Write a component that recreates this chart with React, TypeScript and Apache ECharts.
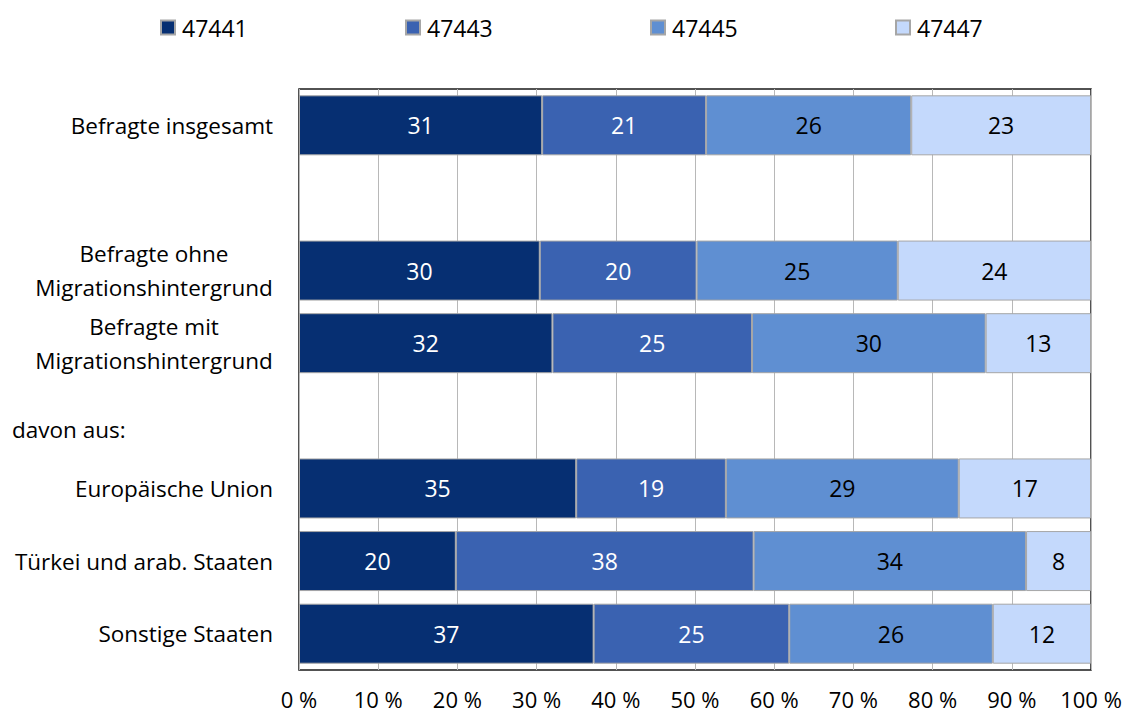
import React, { useEffect, useRef } from "react";
import * as echarts from "echarts";

const categories = [
  "Befragte insgesamt",
  "",
  "Befragte ohne\nMigrationshintergrund",
  "Befragte mit\nMigrationshintergrund",
  "davon aus:",
  "Europäische Union",
  "Türkei und arab. Staaten",
  "Sonstige Staaten",
];

const seriesNames = ["47441", "47443", "47445", "47447"];

const s47441 = [30.7, null, 30.4, 32.0, null, 35.0, 19.8, 37.2];
const s47443 = [20.7, null, 19.8, 25.2, null, 18.9, 37.6, 24.7];
const s47445 = [25.9, null, 25.4, 29.5, null, 29.4, 34.4, 25.7];
const s47447 = [22.7, null, 24.4, 13.3, null, 16.7, 8.2, 12.4];

const xTicks = [0, 10, 20, 30, 40, 50, 60, 70, 80, 90, 100];

const colors = ["#062f72", "#3a62b1", "#5f8fd2", "#c4d9fc"];
const labelColors = ["#ffffff", "#ffffff", "#000000", "#000000"];

const FONT = "Open Sans";
const FS = 22.5;
const FSN = 23;

export default function App() {
  const ref = useRef<HTMLDivElement>(null);

  useEffect(() => {
    document.body.style.margin = "0";
    const chart = echarts.init(ref.current!, null, { renderer: "svg" });
    const values = [s47441, s47443, s47445, s47447];

    const legendLefts = [160, 405, 650, 895];

    const option: any = {
      animation: false,
      textStyle: { fontFamily: FONT },
      legend: seriesNames.map((n, i) => ({
        data: [n],
        left: legendLefts[i],
        top: 16,
        padding: 0,
        itemWidth: 14,
        itemHeight: 14,
        itemGap: 7,
        icon: "rect",
        selectedMode: false,
        textStyle: { fontFamily: FONT, fontSize: FSN, color: "#000", padding: [0, 0, 0, 2] },
      })),
      grid: {
        left: 299,
        right: 38,
        top: 89,
        bottom: 45,
        show: true,
        borderColor: "#1a1a1a",
        borderWidth: 1.5,
        backgroundColor: "transparent",
      },
      xAxis: {
        type: "value",
        min: xTicks[0],
        max: xTicks[xTicks.length - 1],
        interval: 10,
        axisLine: { show: false },
        axisTick: { show: false },
        splitLine: { show: true, lineStyle: { color: "#b8b8b8", width: 1 } },
        axisLabel: {
          formatter: (v: number) => `${v} %`,
          fontFamily: FONT,
          fontSize: 22,
          color: "#000",
          margin: 18,
        },
      },
      yAxis: {
        type: "category",
        inverse: true,
        data: categories,
        axisLine: { show: false },
        axisTick: { show: false },
        splitLine: { show: false },
        axisLabel: {
          margin: 26,
          fontFamily: FONT,
          fontSize: FS,
          color: "#000",
          lineHeight: 34,
          formatter: (v: string) => {
            if (v === categories[4]) return "";
            if (v.includes("\n")) {
              return v
                .split("\n")
                .map((l) => `{c|${l}}`)
                .join("\n");
            }
            return v;
          },
          rich: {
            c: {
              width: 238,
              align: "center",
              fontFamily: FONT,
              fontSize: FS,
              lineHeight: 34,
              color: "#000",
            },
          },
        },
      },
      graphic: [
        {
          type: "text",
          left: 12,
          top: 418,
          style: {
            text: categories[4],
            fontFamily: FONT,
            fontSize: FS,
            fill: "#000",
          },
        },
      ],
      series: seriesNames.map((n, i) => ({
        name: n,
        type: "bar",
        stack: "total",
        barWidth: 60,
        data: values[i],
        itemStyle: {
          color: colors[i],
          borderColor: "#a6a6a6",
          borderWidth: 1,
        },
        label: {
          show: true,
          position: "inside",
          fontFamily: FONT,
          fontSize: FSN,
          color: labelColors[i],
          formatter: (p: any) => (p.value == null ? "" : String(Math.round(p.value))),
        },
      })),
    };

    chart.setOption(option);
    return () => chart.dispose();
  }, []);

  return <div ref={ref} style={{ width: 1129, height: 715 }} />;
}
